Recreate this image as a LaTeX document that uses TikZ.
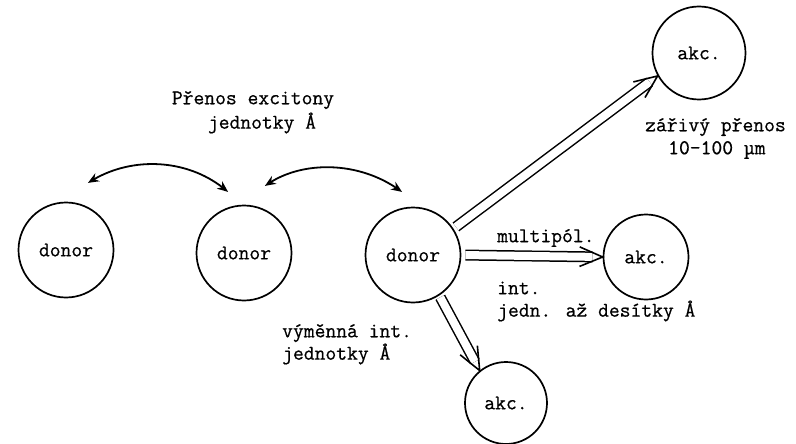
\documentclass[tikz,border=0pt]{standalone}
\usepackage{fontspec}
\usetikzlibrary{arrows.meta,bending,calc}
\newfontfamily\twfont[FakeBold=0.6]{Latin Modern Mono}
\tikzset{
  mol/.style={circle,draw,line width=1.7pt,minimum size=#1,inner sep=0pt,font=\twfont\fontsize{21}{23}\selectfont},
  lbl/.style={font=\twfont\fontsize{21}{23}\selectfont,inner sep=0pt,align=left},
  curvA/.style={line width=1.8pt,{Stealth[length=11pt,width=9pt,bend]}-{Stealth[length=11pt,width=9pt,bend,open,fill=white]}},
  curvB/.style={line width=1.8pt,{Stealth[length=11pt,width=9pt,bend,open,fill=white]}-{Stealth[length=11pt,width=9pt,bend]}},
  dbl/.style={draw=black,line width=1.5pt,double=white,double distance=8pt,shorten >=10pt},
  vtip/.style={line width=1.6pt,line join=miter}
}
\newcommand{\dblarr}[3][]{%
  \draw[dbl,#1] (#2) -- (#3);
  \draw[vtip] ($(#3)!25pt!23:(#2)$) -- (#3) -- ($(#3)!25pt!-23:(#2)$);}
\begin{document}
\begin{tikzpicture}[x=1pt,y=-1pt]
\useasboundingbox[fill=white] (0,0) rectangle (796,444);
\node[mol=95pt] (d1) at (66,250) {donor};
\node[mol=95pt] (d2) at (244,253) {donor};
\node[mol=95pt] (d3) at (413,255) {donor};
\node[mol=93pt] (a1) at (699,53) {akc.};
\node[mol=85pt] (a2) at (646,257) {akc.};
\node[mol=82pt] (a3) at (506,403) {akc.};

\coordinate (c1a) at (88,183);
\coordinate (c1b) at (228,192);
\coordinate (c2a) at (265,186);
\coordinate (c2b) at (402,192);
\draw[curvA] (c1a) .. controls (130,155) and (190,158) .. (c1b);
\draw[curvB] (c2a) .. controls (300,160) and (360,160) .. (c2b);

\dblarr[shorten <=3pt]{d3.33}{a1.209}
\dblarr[shorten <=4pt]{d3.east}{a2.west}
\dblarr[shorten <=2pt]{d3.-57}{a3.129}

\node[lbl,anchor=center] (t1) at (253,100) {Přenos excitony};
\node[lbl,anchor=center] (t2) at (262,123) {jednotky Å};
\node[lbl,anchor=west] (t3) at (645,127) {zářivý přenos};
\node[lbl,anchor=west] (t4) at (668,150) {10-100 µm};
\node[lbl,anchor=west] (t5) at (497,238) {multipól.};
\node[lbl,anchor=west] (t6) at (497,288) {int.};
\node[lbl,anchor=west] (t7) at (497,311) {jedn. až desítky Å};
\node[lbl,anchor=west] (t8) at (282,333) {výměnná int.};
\node[lbl,anchor=west] (t9) at (282,354) {jednotky Å};
\end{tikzpicture}
\end{document}
